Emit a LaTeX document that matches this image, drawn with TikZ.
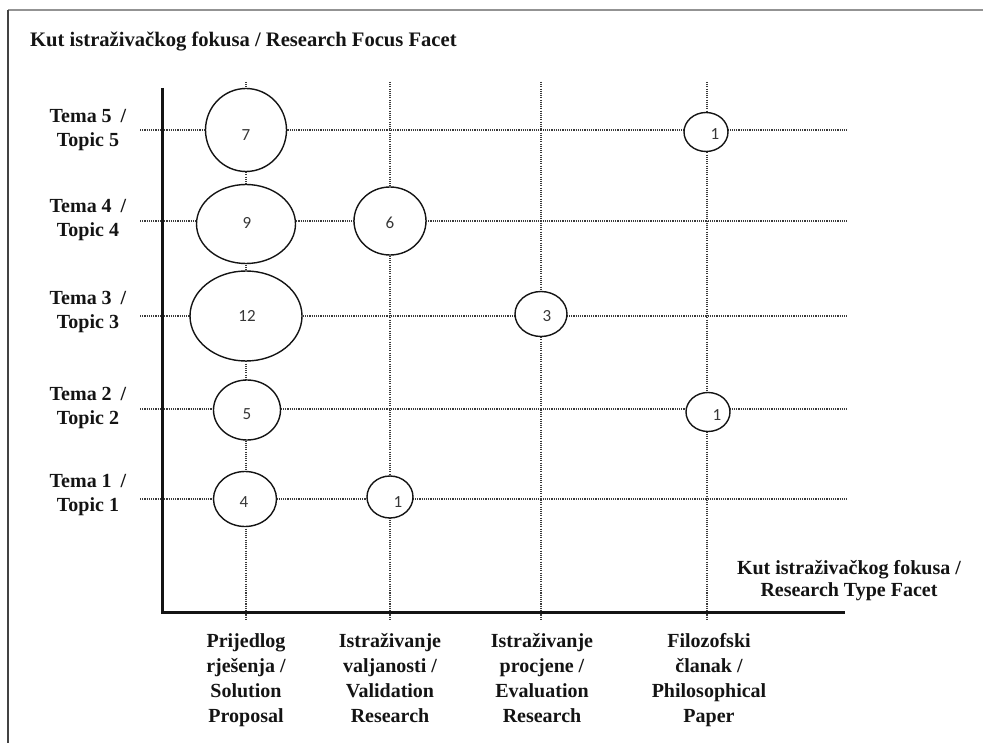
\documentclass[tikz,border=0pt]{standalone}
\usepackage{fontspec}
\setmainfont{Liberation Serif}
\newfontfamily\numfont{Carlito}
\usetikzlibrary{shapes.geometric}
\definecolor{ink}{HTML}{141414}
\definecolor{gridink}{HTML}{3A3A3A}
\begin{document}
\begin{tikzpicture}[x=1pt,y=-1pt,
  lbl/.style={font=\fontsize{20}{25}\selectfont\bfseries, text=ink, align=center, inner sep=0pt},
  topic/.style={lbl, font=\fontsize{20}{24}\selectfont\bfseries},
  typelbl/.style={lbl, anchor=north},
  bubble/.style={ellipse, draw=ink, line width=1.4pt, fill=white, inner sep=0pt},
  num/.style={font=\numfont\fontsize{17}{17}\selectfont, text=ink!85, inner sep=0pt},
  gridline/.style={draw=gridink, line width=1.1pt, dash pattern=on 1.1pt off 1.1pt},
  axisline/.style={draw=ink, line width=3pt, line join=miter},
]
\useasboundingbox (0,0) rectangle (983,743);

% page frame (top and left edges)
\draw[gray!85, line width=2pt] (8,10) -- (983,10);
\draw[ink!80, line width=1.5pt] (8,10) -- (8,743);

% dotted grid: one vertical line per research type, one horizontal per topic
\foreach \x/\n in {246/1,390/2,541/3,707/4}{
  \coordinate (col\n-top) at (\x,82);
  \coordinate (col\n-bot) at (\x,620);
  \draw[gridline] (col\n-top) -- (col\n-bot);
}
\foreach \y/\n in {130/5,221/4,316/3,409/2,499/1}{
  \coordinate (row\n-start) at (140,\y);
  \coordinate (row\n-end) at (848,\y);
  \draw[gridline] (row\n-start) -- (row\n-end);
}

% axes
\coordinate (ax-top) at (162,88);
\coordinate (ax-origin) at (162,612);
\coordinate (ax-right) at (845,612);
\draw[axisline] (ax-top) -- (ax-origin) -- (ax-right);

% bubbles
\node[bubble, minimum width=81, minimum height=83] (b51) at (246,130) {};
\node[bubble, minimum width=99, minimum height=79] (b41) at (246,224) {};
\node[bubble, minimum width=112, minimum height=90] (b31) at (246,316) {};
\node[bubble, minimum width=67, minimum height=60] (b21) at (247,410) {};
\node[bubble, minimum width=63, minimum height=55] (b11) at (245,499) {};
\node[bubble, minimum width=72, minimum height=68] (b42) at (390,221) {};
\node[bubble, minimum width=52, minimum height=45] (b33) at (541,314) {};
\node[bubble, minimum width=44, minimum height=39] (b54) at (706,132) {};
\node[bubble, minimum width=46, minimum height=42] (b12) at (390,497) {};
\node[bubble, minimum width=44, minimum height=39] (b24) at (708,412) {};

% counts
\node[num] (n51) at (246,135) {7};
\node[num] (n41) at (247,223) {9};
\node[num] (n31) at (247,316) {12};
\node[num] (n21) at (247,414) {5};
\node[num] (n11) at (244,502) {4};
\node[num] (n42) at (390,223) {6};
\node[num] (n33) at (547,316) {3};
\node[num] (n54) at (715,134) {1};
\node[num] (n12) at (398,502) {1};
\node[num] (n24) at (717,415) {1};

% titles
\node[lbl, font=\fontsize{20.6}{25}\selectfont\bfseries, anchor=west] (title) at (30,42) {Kut istraživačkog fokusa / Research Focus Facet};
\node[lbl, font=\fontsize{20}{22}\selectfont\bfseries] (xtitle) at (849,581) {Kut istraživačkog fokusa /\\Research Type Facet};

% topic labels
\node[topic] (t5) at (88,130) {Tema 5\hspace{4pt} /\\Topic 5};
\node[topic] (t4) at (88,220) {Tema 4\hspace{4pt} /\\Topic 4};
\node[topic] (t3) at (88,312) {Tema 3\hspace{4pt} /\\Topic 3};
\node[topic] (t2) at (88,408) {Tema 2\hspace{4pt} /\\Topic 2};
\node[topic] (t1) at (88,495) {Tema 1\hspace{4pt} /\\Topic 1};

% research type labels
\node[typelbl] (r1) at (246,630) {\strut Prijedlog\\rješenja /\\Solution\\Proposal};
\node[typelbl] (r2) at (390,630) {\strut Istraživanje\\valjanosti /\\Validation\\Research};
\node[typelbl] (r3) at (542,630) {\strut Istraživanje\\procjene /\\Evaluation\\Research};
\node[typelbl] (r4) at (709,630) {\strut Filozofski\\članak /\\Philosophical\\Paper};
\end{tikzpicture}
\end{document}
